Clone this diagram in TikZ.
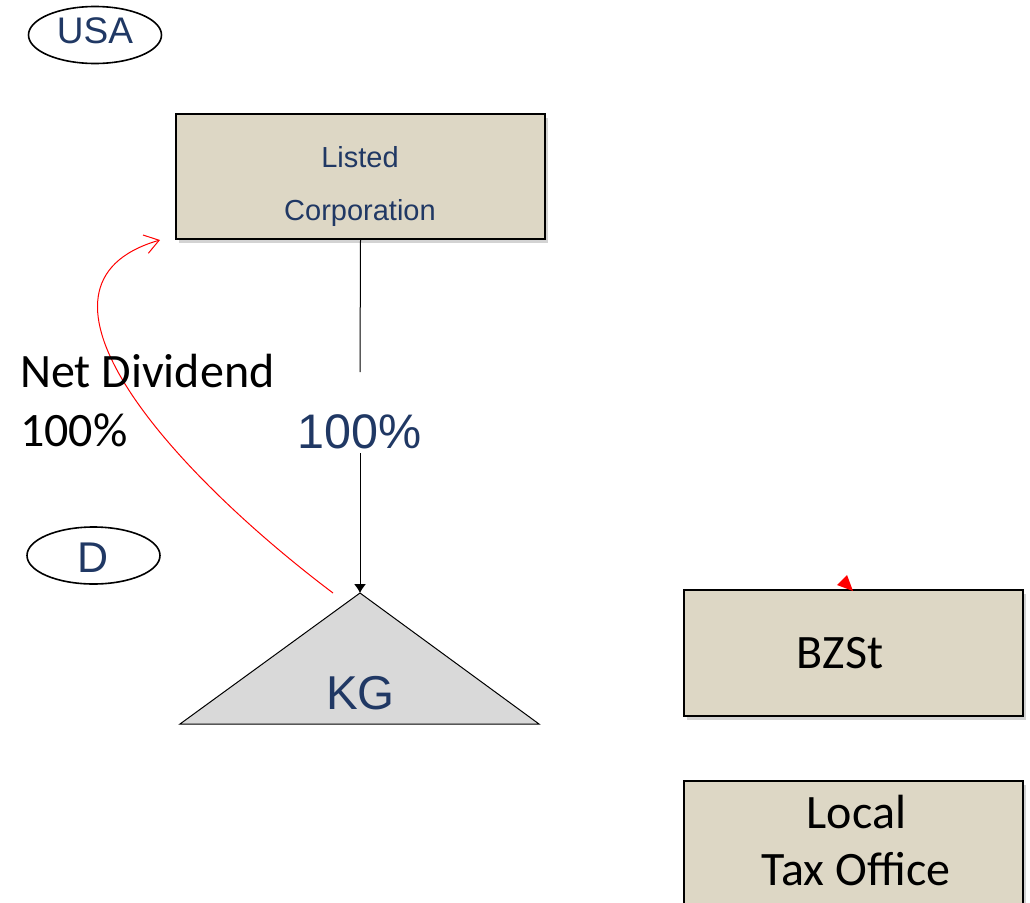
\documentclass[tikz,border=0pt]{standalone}
\usepackage{fontspec}
\setmainfont{Liberation Sans}
\newfontfamily\calibri{Carlito}
\usetikzlibrary{arrows.meta,shadows,shapes.geometric}
\definecolor{boxfill}{HTML}{DDD7C5}
\definecolor{navy}{HTML}{203864}
\definecolor{trifill}{HTML}{D9D9D9}

\begin{document}
\begin{tikzpicture}[x=1pt,y=-1pt,
  box/.style={draw=black, line width=2pt, fill=boxfill, inner sep=0pt,
    drop shadow={shadow xshift=3pt, shadow yshift=-4pt, opacity=0.35}},
  region/.style={draw, ellipse, line width=1.6pt, inner sep=0pt,
    minimum width=133pt, minimum height=57pt},
  bluetxt/.style={text=navy, inner sep=0pt, anchor=base},
  blacktxt/.style={text=black, inner sep=0pt, anchor=base, font=\calibri\fontsize{48}{56}\selectfont},
  conn/.style={draw=black, line width=1pt},
  flow/.style={draw=red, line width=1pt}]

\useasboundingbox (0,0) rectangle (1030,902);

% country markers
\node[region] (usa) at (95,35) {};
\node[bluetxt, font=\fontsize{37}{40}\selectfont] (usaT) at (95,43) {USA};
\node[region] (de) at (93.5,555.5) {};
\node[bluetxt, font=\fontsize{43}{46}\selectfont] (deT) at (93.5,572) {D};

% parent company
\node[box, minimum width=369pt, minimum height=125pt] (lc) at (360.5,176.5) {};
\node[bluetxt, font=\fontsize{29}{32}\selectfont] (lcT1) at (360,167) {Listed};
\node[bluetxt, font=\fontsize{29}{32}\selectfont] (lcT2) at (360,220) {Corporation};

% shareholding
\node[bluetxt, font=\fontsize{48.5}{50}\selectfont] (pct) at (359.5,448) {100\%};
\coordinate (gapTop) at (360,372);
\coordinate (gapBot) at (360,453);

% partnership
\coordinate (kgtop) at (360,593);
\coordinate (kgl) at (180,724);
\coordinate (kgr) at (539,724);
\draw[fill=trifill, line width=1pt] (kgtop) -- (kgr) -- (kgl) -- cycle;
\node[bluetxt, font=\fontsize{47.5}{50}\selectfont] (kgT) at (360.5,709) {KG};

\draw[conn] (lc.south) -- (gapTop);
\draw[conn, -{Latex[length=9pt,width=12pt]}] (gapBot) -- (kgtop);

% dividend flow
\coordinate (divStart) at (333,593);
\coordinate (divEnd) at (160,240);
\draw[flow, -{Straight Barb[length=14pt,width=19pt]}] (divStart) .. controls (170,470) and (5,285) .. (divEnd);
\node[blacktxt, anchor=base west] (netT1) at (20,387) {Net Dividend};
\node[blacktxt, anchor=base west] (netT2) at (20,446) {100\%};

% authorities
\node[box, minimum width=339pt, minimum height=126pt] (bzst) at (853.5,653) {};
\node[blacktxt] (bzstT) at (840,668) {BZSt};
\fill[red] (837,585) -- (847,575) -- (853,591) -- cycle;

\node[box, minimum width=339pt, minimum height=126pt] (lto) at (853.5,844) {};
\node[blacktxt] (ltoT1) at (856.5,828) {Local};
\node[blacktxt] (ltoT2) at (856,885) {Tax Office};
\end{tikzpicture}
\end{document}
